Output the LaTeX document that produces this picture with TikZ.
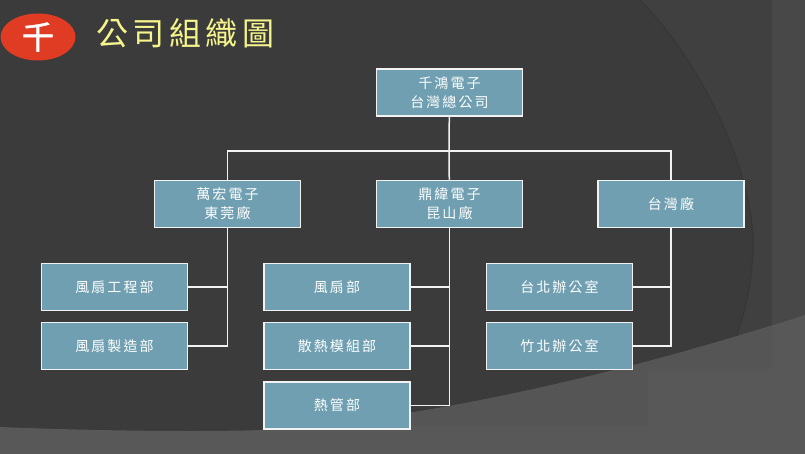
\documentclass[tikz,border=0pt]{standalone}
\usepackage{fontspec}
\usetikzlibrary{shapes.geometric}
\newfontfamily\cjk[LetterSpace=15]{Noto Sans CJK TC}
\newfontfamily\cjktitle[LetterSpace=14]{Noto Sans CJK TC}
\newfontfamily\cjklogo[FakeBold=1.5]{Noto Sans CJK TC}
\definecolor{bgdark}{HTML}{3B3B3B}
\definecolor{bgedge}{HTML}{373737}
\definecolor{bgsoft}{HTML}{404040}
\definecolor{bgmid}{HTML}{484848}
\definecolor{bglight}{HTML}{585858}
\definecolor{bgshade}{HTML}{555555}
\definecolor{boxfill}{HTML}{6F9FB0}
\definecolor{titlecol}{HTML}{F5F58C}
\definecolor{logored}{HTML}{E03C24}
\tikzset{
  orgbox/.style={draw=white!90!gray,line width=1.5pt,fill=boxfill,text=white,minimum width=146pt,minimum height=47pt,inner sep=0pt,align=center,font=\cjk\fontsize{14}{19}\selectfont},
  link/.style={draw=white!90!gray,line width=1.5pt}
}
\begin{document}
\begin{tikzpicture}[x=1pt,y=-1pt]
  \useasboundingbox (0,0) rectangle (805,454);
  % background
  \fill[bgmid] (0,0) rectangle (805,454);
  \fill[bgsoft] (0,0) rectangle (772,369);
  \fill[bgdark] (0,0) -- (640,0) .. controls (700,60) and (753,170) .. (753,243) .. controls (753,290) and (740,335) .. (722,369) -- (648,369) -- (648,426) -- (0,426) -- cycle;
  \draw[bgedge,line width=1.2pt] (640,0) .. controls (700,60) and (753,170) .. (753,243) .. controls (753,290) and (740,335) .. (722,369);
  \fill[bgdark] (0,426) rectangle (400,434);
  \fill[bglight] (0,427) .. controls (100,431) and (200,432) .. (263,430) .. controls (420,420) and (620,375) .. (805,315) -- (805,454) -- (0,454) -- cycle;
  \begin{scope}
    \clip (0,427) .. controls (100,431) and (200,432) .. (263,430) .. controls (420,420) and (620,375) .. (805,315) -- (805,454) -- (0,454) -- cycle;
    \fill[bgshade] (0,0) rectangle (648,426);
    \fill[bgshade] (648,0) rectangle (772,369);
  \end{scope}
  % logo and title
  \node[ellipse,fill=logored,minimum width=75pt,minimum height=47pt,inner sep=0pt,text=white,font=\cjklogo\fontsize{32}{32}\selectfont] (logo) at (38,37) {千};
  \node[text=titlecol,inner sep=0pt,font=\cjktitle\fontsize{32}{32}\selectfont,anchor=west] (title) at (96,33) {公司組織圖};
  % first row
  \node[orgbox] (top) at (449.5,92.5) {千鴻電子\\台灣總公司};
  \coordinate (bus) at (449,151);
  % second row
  \node[orgbox] (wan) at (227.5,204) {萬宏電子\\東莞廠};
  \node[orgbox] (ding) at (449.5,204) {鼎緯電子\\昆山廠};
  \node[orgbox] (tai) at (671,204) {台灣廠};
  % third row
  \node[orgbox] (wan1) at (114.5,287) {風扇工程部};
  \node[orgbox] (wan2) at (114.5,346) {風扇製造部};
  \node[orgbox] (ding1) at (337,287) {風扇部};
  \node[orgbox] (ding2) at (337,346) {散熱模組部};
  \node[orgbox] (ding3) at (337,405.5) {熱管部};
  \node[orgbox] (tai1) at (559.5,287) {台北辦公室};
  \node[orgbox] (tai2) at (559.5,346) {竹北辦公室};
  % connectors
  \draw[link] (top) -- (bus);
  \draw[link] (bus) -| (wan);
  \draw[link] (bus) -- (ding);
  \draw[link] (bus) -| (tai);
  \draw[link] (wan) |- (wan1);
  \draw[link] (wan) |- (wan2);
  \draw[link] (ding) |- (ding1);
  \draw[link] (ding) |- (ding2);
  \draw[link] (ding) |- (ding3);
  \draw[link] (tai) |- (tai1);
  \draw[link] (tai) |- (tai2);
\end{tikzpicture}
\end{document}
